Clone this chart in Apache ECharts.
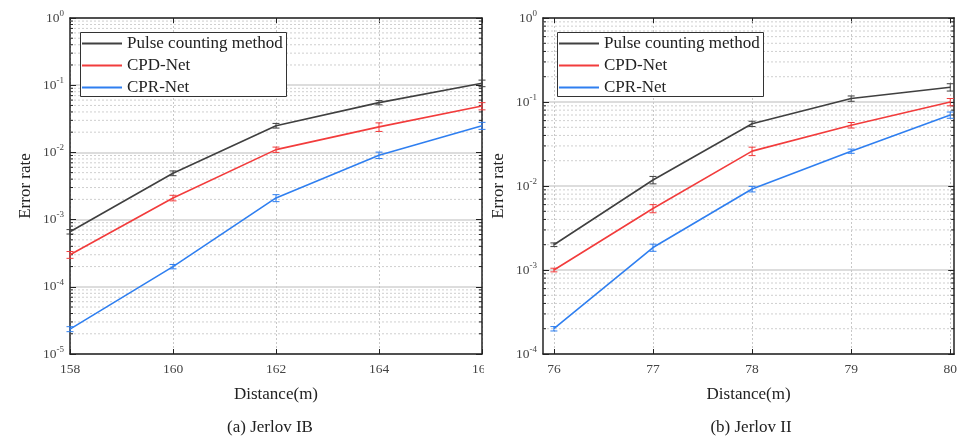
<!DOCTYPE html>
<html><head><meta charset="utf-8">
<script src="https://cdn.jsdelivr.net/npm/echarts@6/dist/echarts.min.js"></script>
<style>html,body{margin:0;padding:0;background:#fff}#c{width:960px;height:440px}</style>
</head><body><div id="c"></div>
<script>
// ---- data ----
const seriesNames = ['Pulse counting method', 'CPD-Net', 'CPR-Net'];
const captions = ['(a) Jerlov IB', '(b) Jerlov II'];

const distA = [158, 160, 162, 164, 166];
const pulseA = [6.6e-4, 4.9e-3, 2.5e-2, 5.5e-2, 0.107];
const pulseErrA = [0.5e-4, 0.4e-3, 0.2e-2, 0.4e-2, 0.012];
const cpdA = [3.0e-4, 2.1e-3, 1.1e-2, 2.4e-2, 4.9e-2];
const cpdErrA = [0.35e-4, 0.2e-3, 0.1e-2, 0.35e-2, 0.6e-2];
const cprA = [2.35e-5, 2.0e-4, 2.1e-3, 9.1e-3, 2.5e-2];
const cprErrA = [0.2e-5, 0.15e-4, 0.25e-3, 1.0e-3, 0.3e-2];

const distB = [76, 77, 78, 79, 80];
const pulseB = [2.0e-3, 1.18e-2, 5.5e-2, 0.11, 0.15];
const pulseErrB = [0.1e-3, 0.12e-2, 0.4e-2, 0.008, 0.015];
const cpdB = [1.0e-3, 5.4e-3, 2.6e-2, 5.3e-2, 0.1];
const cpdErrB = [0.05e-3, 0.6e-3, 0.3e-2, 0.4e-2, 0.01];
const cprB = [2.0e-4, 1.85e-3, 9.2e-3, 2.6e-2, 0.07];
const cprErrB = [0.12e-4, 0.18e-3, 0.7e-3, 0.15e-2, 0.006];

const xTicksA = [158, 160, 162, 164, 166];
const xTicksB = [76, 77, 78, 79, 80];

// ---- styling ----
const colors = ['#404040', '#f23c3c', '#2f7ff0'];
const FONT = 'Liberation Serif';

const panels = [
  { grid: { left: 70, top: 18, width: 412, height: 336 }, xMin: 158, xMax: 166, xTicks: xTicksA, yMin: 1e-5, yMax: 1,
    x: distA, vals: [pulseA, cpdA, cprA], errs: [pulseErrA, cpdErrA, cprErrA], legend: { left: 80, top: 32, w: 207, h: 65 }, cap: 270 },
  { grid: { left: 543, top: 18, width: 412, height: 336 }, xMin: 75.89, xMax: 80.04, xTicks: xTicksB, yMin: 1e-4, yMax: 1,
    x: distB, vals: [pulseB, cpdB, cprB], errs: [pulseErrB, cpdErrB, cprErrB], legend: { left: 557, top: 32, w: 207, h: 65 }, cap: 751 }
];

function minorValues(yMin, yMax) {
  const out = [];
  for (let k = Math.round(Math.log10(yMin)); k < Math.round(Math.log10(yMax)); k++) {
    for (let m = 2; m <= 9; m++) out.push(m * Math.pow(10, k));
  }
  return out;
}

const option = { animation: false, grid: [], xAxis: [], yAxis: [], series: [], legend: [], graphic: [] };

panels.forEach((p, pi) => {
  option.grid.push(Object.assign({ containLabel: false }, p.grid));
  const axisLine = { show: true, lineStyle: { color: '#222', width: 1.5 } };
  option.xAxis.push({
    type: 'value', gridIndex: pi, min: p.xMin, max: p.xMax, position: 'bottom',
    axisLine, axisTick: { inside: true, length: 5, lineStyle: { color: '#222' }, customValues: p.xTicks },
    axisLabel: { customValues: p.xTicks, color: '#444', fontFamily: FONT, fontSize: 13.5, margin: 8 },
    splitLine: { show: true, lineStyle: { color: '#c8c8c8', type: [2, 2], width: 1 } },
    name: 'Distance(m)', nameLocation: 'middle', nameGap: 32,
    nameTextStyle: { fontFamily: FONT, fontSize: 17, color: '#222' }
  });
  option.xAxis.push({
    type: 'value', gridIndex: pi, min: p.xMin, max: p.xMax, position: 'top',
    axisLine, axisTick: { inside: true, length: 5, lineStyle: { color: '#222' }, customValues: p.xTicks },
    axisLabel: { show: false, customValues: p.xTicks }, splitLine: { show: false }
  });
  option.yAxis.push({
    type: 'log', logBase: 10, gridIndex: pi, min: p.yMin, max: p.yMax, position: 'left',
    axisLine, axisTick: { inside: true, length: 6, lineStyle: { color: '#222' } },
    axisLabel: {
      color: '#444', fontFamily: FONT, fontSize: 13, margin: 6,
      formatter: v => '{b|10}{s|' + Math.round(Math.log10(v)) + '}',
      rich: { b: { fontFamily: FONT, fontSize: 13.5, color: '#444' }, s: { fontFamily: FONT, fontSize: 9, color: '#444', padding: [0, 0, 9, 0] } }
    },
    splitLine: { show: true, lineStyle: { color: '#d2d2d2', width: 1.5 } },
    name: 'Error rate', nameLocation: 'middle', nameGap: 36,
    nameTextStyle: { fontFamily: FONT, fontSize: 17, color: '#222' }
  });
  option.yAxis.push({
    type: 'log', logBase: 10, gridIndex: pi, min: p.yMin, max: p.yMax, position: 'right',
    axisLine, axisTick: { inside: true, length: 6, lineStyle: { color: '#222' } },
    axisLabel: { show: false }, splitLine: { show: false }
  });
  const xi = pi * 2, yi = pi * 2;
  option.series.push({
    type: 'custom', xAxisIndex: xi, yAxisIndex: yi, silent: true, z: 1,
    data: minorValues(p.yMin, p.yMax).map(v => [p.xMin, v]),
    encode: { x: 0, y: 1 },
    renderItem: (params, api) => {
      const cs = params.coordSys;
      const y = api.coord([api.value(0), api.value(1)])[1];
      return { type: 'group', children: [
        { type: 'line', shape: { x1: cs.x, y1: y, x2: cs.x + cs.width, y2: y }, style: { stroke: '#cfcfcf', lineWidth: 1, lineDash: [2, 2] } },
        { type: 'line', shape: { x1: cs.x, y1: y, x2: cs.x + 3, y2: y }, style: { stroke: '#222', lineWidth: 1 } },
        { type: 'line', shape: { x1: cs.x + cs.width - 3, y1: y, x2: cs.x + cs.width, y2: y }, style: { stroke: '#222', lineWidth: 1 } }
      ] };
    }
  });
  seriesNames.forEach((name, si) => {
    option.series.push({
      type: 'line', name, xAxisIndex: xi, yAxisIndex: yi, z: 2,
      data: p.x.map((d, i) => [d, p.vals[si][i]]),
      symbol: 'none', lineStyle: { color: colors[si], width: 1.6 }, itemStyle: { color: colors[si] }
    });
    option.series.push({
      type: 'custom', name: name + ' error', xAxisIndex: xi, yAxisIndex: yi, z: 3, silent: true,
      data: p.x.map((d, i) => [d, p.vals[si][i] - p.errs[si][i], p.vals[si][i] + p.errs[si][i]]),
      encode: { x: 0, y: [1, 2] },
      renderItem: (params, api) => {
        const a = api.coord([api.value(0), api.value(1)]);
        const b = api.coord([api.value(0), api.value(2)]);
        const w = 3.5, st = { stroke: colors[si], lineWidth: 1 };
        return { type: 'group', children: [
          { type: 'line', shape: { x1: a[0], y1: a[1], x2: b[0], y2: b[1] }, style: st },
          { type: 'line', shape: { x1: a[0] - w, y1: a[1], x2: a[0] + w, y2: a[1] }, style: st },
          { type: 'line', shape: { x1: b[0] - w, y1: b[1], x2: b[0] + w, y2: b[1] }, style: st }
        ] };
      }
    });
  });
  option.graphic.push({
    type: 'rect', z: 10, silent: true,
    shape: { x: p.legend.left + 0.5, y: p.legend.top + 0.5, width: p.legend.w - 1, height: p.legend.h - 1 },
    style: { fill: '#fff', stroke: '#333', lineWidth: 1 }
  });
  option.legend.push({
    show: true, left: p.legend.left, top: p.legend.top, orient: 'vertical', z: 20,
    data: seriesNames.map((n, si) => ({ name: n, itemStyle: { color: colors[si] } })),
    padding: [3, 2, 0, 2],
    itemWidth: 40, itemHeight: 2, itemGap: 5, icon: 'rect', selectedMode: false,
    textStyle: { fontFamily: FONT, fontSize: 17, color: '#222', lineHeight: 16 }
  });
  option.graphic.push({
    type: 'text', x: p.cap, y: 428,
    style: { text: captions[pi], align: 'center', verticalAlign: 'middle', font: '17px "Liberation Serif"', fill: '#222' }
  });
});

option.graphic.push({ type: 'rect', shape: { x: 484, y: 357, width: 10, height: 16 }, style: { fill: '#fff' }, z: 100 });

const chart = echarts.init(document.getElementById('c'), null, { renderer: 'canvas' });
chart.setOption(option);
</script></body></html>
